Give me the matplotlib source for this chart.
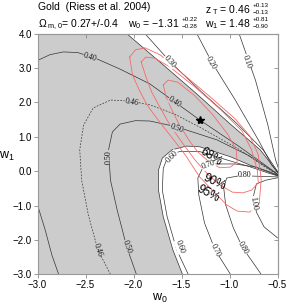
import matplotlib
matplotlib.use("Agg")
import matplotlib.pyplot as plt
import numpy as np

plt.rcParams['font.family'] = ['Liberation Sans', 'DejaVu Sans']
plt.rcParams['mathtext.fontset'] = 'custom'
plt.rcParams['mathtext.rm'] = 'Liberation Sans'
plt.rcParams['mathtext.it'] = 'Liberation Sans'

# point where all z_T contours meet (just outside the plot)
conv_w0, conv_w1 = -0.46, -0.17

# z_T contours (w0, w1)
c010_w0 = [-0.90, -0.73, -0.60, -0.52, conv_w0]
c010_w1 = [4.0, 2.65, 1.34, 0.33, conv_w1]
c020_w0 = [-1.34, -1.18, -0.94, -0.70, -0.56, conv_w0]
c020_w1 = [4.0, 3.15, 2.07, 0.91, 0.18, conv_w1]
c030_w0 = [-1.88, -1.62, -1.29, -0.94, -0.65, conv_w0]
c030_w1 = [4.0, 3.19, 2.30, 1.43, 0.62, conv_w1]
# upper edge of shaded band (z_T = 0.33)
up_w0 = [-2.07, -1.71, -1.35, -1.00, -0.68, conv_w0]
up_w1 = [4.0, 3.14, 2.27, 1.39, 0.62, conv_w1]
c040_w0 = [-3.00, -2.87, -2.73, -2.58, -2.40, -2.14, -1.83, -1.31, -0.89, -0.63, conv_w0]
c040_w1 = [3.22, 3.39, 3.47, 3.45, 3.29, 2.97, 2.54, 1.49, 0.70, 0.18, conv_w1]
c040b_w0 = [-3.00, -2.92, -2.85, -2.78]
c040b_w1 = [-0.98, -1.71, -2.44, -3.0]
c046_w0 = [-2.24, -2.37, -2.47, -2.54, -2.56, -2.52, -2.42, -2.24, -2.03, -1.83, -1.57, -1.31, -0.89, -0.63, conv_w0]
c046_w1 = [-3.0, -2.30, -1.28, -0.26, 0.62, 1.34, 1.84, 2.07, 2.04, 1.93, 1.66, 1.28, 0.62, 0.12, conv_w1]
c050_w0 = [-1.97, -2.07, -2.17, -2.24, -2.26, -2.22, -2.14, -1.98, -1.83, -1.55, -1.13, -0.79, -0.58, conv_w0]
c050_w1 = [-3.0, -2.21, -1.13, -0.26, 0.62, 1.14, 1.37, 1.47, 1.46, 1.29, 0.91, 0.44, 0.06, conv_w1]
# lower edge of shaded band (z_T = 0.59)
lo_w0 = [-1.49, -1.59, -1.69, -1.74, -1.74, -1.70, -1.60, -1.45, -1.31, -0.99, -0.79, -0.60, conv_w0]
lo_w1 = [-3.0, -2.29, -1.33, -0.55, 0.03, 0.38, 0.62, 0.73, 0.71, 0.42, 0.18, -0.02, conv_w1]
c060_w0 = [-1.43, -1.55, -1.65, -1.70, -1.69, -1.65, -1.60, -1.52, -1.31, -1.03, -0.79, -0.60, conv_w0]
c060_w1 = [-3.0, -2.29, -1.32, -0.55, 0.08, 0.37, 0.50, 0.57, 0.57, 0.33, 0.13, -0.05, conv_w1]
c070_w0 = [-0.99, -1.15, -1.26, -1.32, -1.33, -1.28, -1.15, -0.94, -0.73, -0.58, conv_w0]
c070_w1 = [-3.0, -2.29, -1.51, -0.69, -0.20, 0.09, 0.21, 0.21, 0.12, -0.02, conv_w1]
c080_w0 = [-0.67, -0.86, -0.96, -1.04, -1.06, -1.03, -0.89, -0.68, conv_w0]
c080_w1 = [-3.0, -2.24, -1.65, -0.98, -0.49, -0.20, -0.13, -0.15, conv_w1]
c100_w0 = [-0.50, -0.64, -0.72, -0.75, -0.72, -0.62, conv_w0]
c100_w1 = [-1.94, -1.62, -1.19, -0.72, -0.37, -0.26, conv_w1]

# confidence regions
cl68_w0 = [-1.69, -1.64, -1.54, -1.36, -1.18, -1.02, -0.93, -0.92, -0.99, -1.10, -1.20, -1.33, -1.41, -1.52, -1.60, -1.66, -1.69]
cl68_w1 = [2.51, 2.65, 2.59, 2.19, 1.66, 1.08, 0.62, 0.27, 0.12, 0.10, 0.24, 0.56, 0.85, 1.34, 1.78, 2.16, 2.51]
cl90_w0 = [-1.92, -1.87, -1.78, -1.62, -1.36, -1.10, -0.87, -0.77, -0.71, -0.70, -0.77, -0.86, -0.97,
           -1.10, -1.22, -1.36, -1.49, -1.62, -1.72, -1.81, -1.87, -1.92]
cl90_w1 = [3.18, 3.32, 3.29, 3.03, 2.45, 1.81, 1.17, 0.62, 0.03, -0.34, -0.55, -0.63, -0.61,
           -0.40, -0.11, 0.33, 0.82, 1.34, 1.84, 2.30, 2.74, 3.18]
cl95_w0 = [-2.04, -1.98, -1.88, -1.72, -1.46, -1.20, -0.94, -0.79, -0.70, -0.67, -0.69, -0.79, -0.92,
           -1.03, -1.18, -1.31, -1.46, -1.62, -1.76, -1.86, -1.94, -2.01, -2.04]
cl95_w1 = [3.32, 3.53, 3.59, 3.38, 2.77, 2.16, 1.52, 1.03, 0.48, -0.25, -0.93, -1.19, -1.16,
           -0.98, -0.55, -0.17, 0.47, 1.05, 1.55, 1.93, 2.36, 2.80, 3.32]

best_w0, best_w1 = -1.31, 1.48

# contour labels: text, w0, w1, angle, background
labels = [
    ("0.10", -0.82, 3.19, -71, 'white'),
    ("0.20", -1.19, 3.14, -60, 'white'),
    ("0.30", -1.62, 3.19, -48, 'white'),
    ("0.40", -2.45, 3.33, -18, '#cccccc'),
    ("0.40", -1.57, 2.02, -33, '#cccccc'),
    ("0.46", -2.02, 2.02, -10, '#cccccc'),
    ("0.46", -2.37, -2.29, -72, '#cccccc'),
    ("0.50", -2.26, 0.42, 90, '#cccccc'),
    ("0.50", -2.07, -2.20, -70, '#cccccc'),
    ("0.50", -1.55, 1.25, -20, '#cccccc'),
    ("0.60", -1.60, 0.42, 45, 'white'),
    ("0.60", -1.52, -2.20, -70, 'white'),
    ("0.70", -1.22, 0.18, 20, 'white'),
    ("0.70", -1.15, -2.29, -65, 'white'),
    ("0.80", -0.84, -0.11, 0, 'white'),
    ("0.80", -0.86, -2.24, -60, 'white'),
    ("1.00", -0.75, -0.93, -80, 'white'),
]
pct_labels = [("68%", -1.19, 0.42, -33), ("90%", -1.16, -0.32, -25), ("95%", -1.22, -0.66, -28)]

W, H = 286, 304
fig = plt.figure(figsize=(W / 100, H / 100), dpi=100)
ax = fig.add_axes([37.5 / W, (H - 274.3) / H, 240 / W, 240.6 / H])
ax.set_xlim(-3.0, -0.5)
ax.set_ylim(-3.0, 4.0)

# shaded band between the two edges
band_w0 = [-3.0] + up_w0 + lo_w0[::-1] + [-3.0]
band_w1 = [4.0] + up_w1 + lo_w1[::-1] + [-3.0]
ax.fill(band_w0, band_w1, color='#cccccc', lw=0, zorder=0)

lc = '#333333'
lw = 0.5
for xs, ys in [(c010_w0, c010_w1), (c020_w0, c020_w1), (c030_w0, c030_w1), (up_w0, up_w1),
               (c040_w0, c040_w1), (c040b_w0, c040b_w1), (c050_w0, c050_w1), (lo_w0, lo_w1),
               (c060_w0, c060_w1), (c070_w0, c070_w1), (c080_w0, c080_w1), (c100_w0, c100_w1)]:
    ax.plot(xs, ys, color=lc, lw=lw, zorder=2)
ax.plot(c046_w0, c046_w1, color=lc, lw=lw, ls=(0, (2.5, 2)), zorder=2)

for xs, ys in [(cl68_w0, cl68_w1), (cl90_w0, cl90_w1), (cl95_w0, cl95_w1)]:
    ax.plot(xs, ys, color='#f46a6a', lw=0.6, zorder=3)

for s, x, y, r, bg in labels:
    ax.text(x, y, s, rotation=r, rotation_mode='anchor', ha='center', va='center',
            fontsize=5.8, family='Liberation Serif', color='#111111', zorder=4,
            bbox=dict(fc=bg, ec='none', pad=0.1))
for s, x, y, r in pct_labels:
    ax.text(x, y, s, rotation=r, rotation_mode='anchor', ha='center', va='center',
            fontsize=8.5, color='black', zorder=5)

ax.plot([best_w0], [best_w1], marker='*', color='black', ms=6, ls='none', zorder=6)

# axes styling
ax.set_xticks([-3.0, -2.5, -2.0, -1.5, -1.0, -0.5])
ax.set_yticks([-3.0, -2.0, -1.0, 0.0, 1.0, 2.0, 3.0, 4.0])
ax.xaxis.set_major_formatter(plt.FuncFormatter(lambda v, p: ('%.1f' % v).replace('-', '\u2212')))
ax.yaxis.set_major_formatter(plt.FuncFormatter(lambda v, p: ('%.1f' % v).replace('-', '\u2212')))
ax.tick_params(direction='out', length=3, width=0.6, color='#888888', labelsize=7, pad=1)
for sp in ax.spines.values():
    sp.set_color('#999999')
    sp.set_linewidth(0.8)
top = ax.secondary_xaxis('top')
top.set_xticks([-3.0, -2.5, -2.0, -1.5, -1.0, -0.5])
top.tick_params(direction='in', length=3, width=0.6, color='#888888', labeltop=False)
top.spines['top'].set_color('#999999')
right = ax.secondary_yaxis('right')
right.set_yticks([-3.0, -2.0, -1.0, 0.0, 1.0, 2.0, 3.0, 4.0])
right.tick_params(direction='in', length=3, width=0.6, color='#888888', labelright=False)
right.spines['right'].set_color('#999999')

fig.text(160 / W, 1 - 298 / H, r'w$_0$', fontsize=9, ha='center', va='center')
fig.text(7 / W, 1 - 156 / H, r'w$_1$', fontsize=9, ha='center', va='center')

# header
fs = 7.5
fig.text(38 / W, 1 - 10.5 / H, 'Gold  (Riess et al. 2004)', fontsize=fs, va='baseline')
fig.text(205 / W, 1 - 13 / H, r'z$_{\ T}$ = 0.46', fontsize=fs, va='baseline')
fig.text(253 / W, 1 - 7 / H, '+0.13', fontsize=4.5, va='baseline')
fig.text(253 / W, 1 - 14 / H, '\u22120.13', fontsize=4.5, va='baseline')
fig.text(38 / W, 1 - 27 / H, r'$\Omega_{\ m,0}$= 0.27+/-0.4', fontsize=fs, va='baseline')
fig.text(128 / W, 1 - 27 / H, 'w$_0$ = \u22121.31', fontsize=fs, va='baseline')
fig.text(182 / W, 1 - 21 / H, '+0.22', fontsize=4.5, va='baseline')
fig.text(182 / W, 1 - 28 / H, '\u22120.28', fontsize=4.5, va='baseline')
fig.text(205 / W, 1 - 27 / H, 'w$_1$ = 1.48', fontsize=fs, va='baseline')
fig.text(253 / W, 1 - 21 / H, '+0.81', fontsize=4.5, va='baseline')
fig.text(253 / W, 1 - 28 / H, '\u22120.90', fontsize=4.5, va='baseline')

fig.savefig('out.png', dpi=100)
